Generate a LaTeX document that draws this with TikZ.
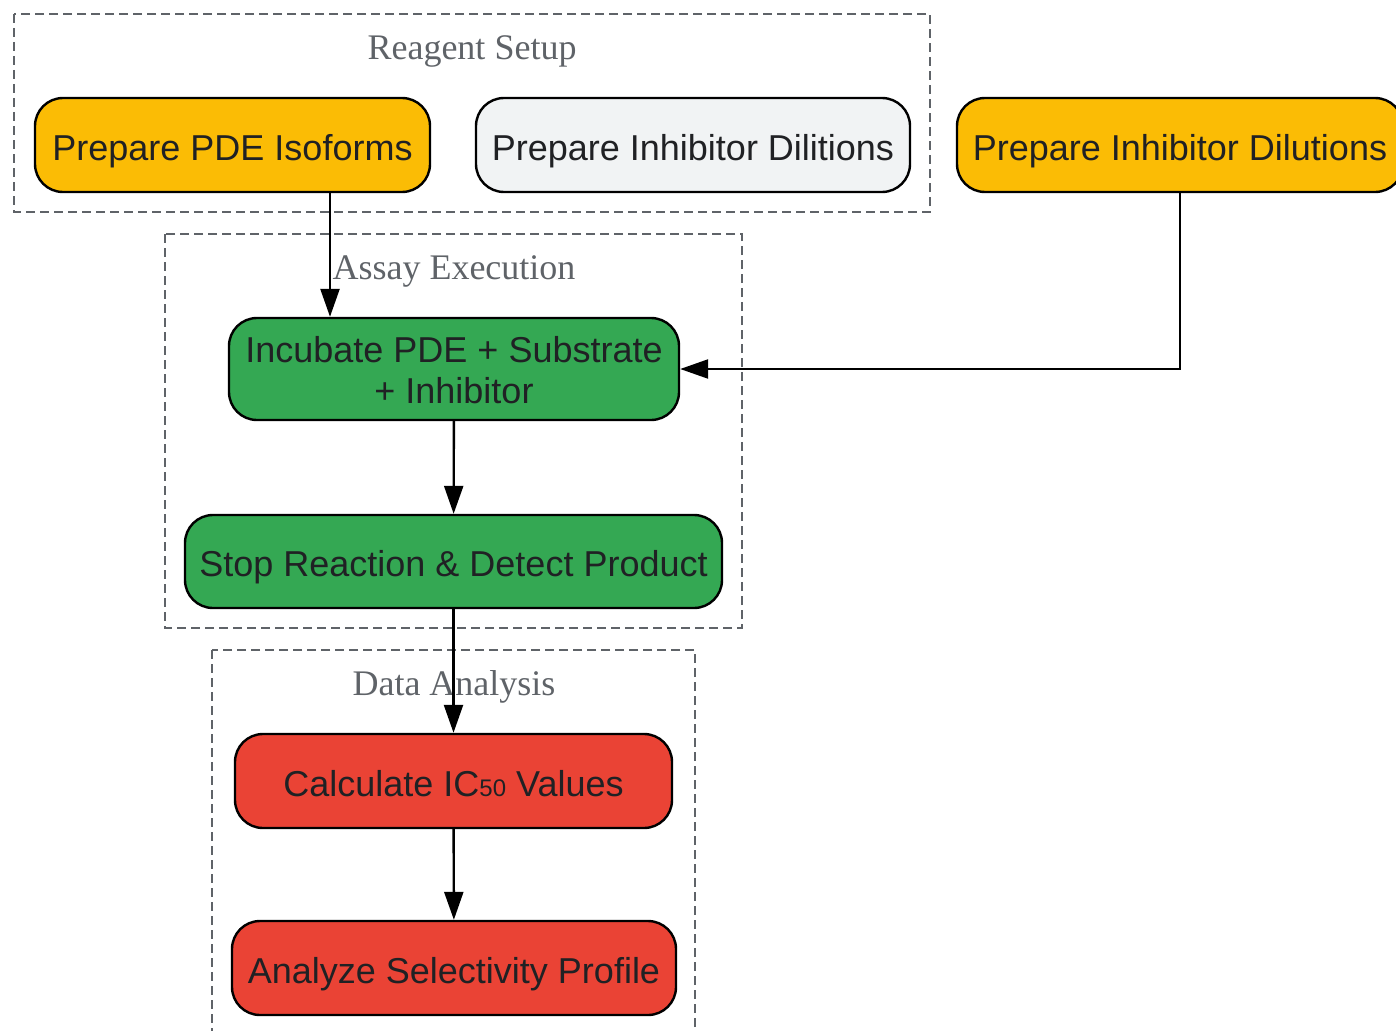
\documentclass[tikz,border=0pt]{standalone}
\usepackage{fontspec}
\setmainfont{Liberation Serif}
\newfontfamily\boxfont{Liberation Sans}
\usetikzlibrary{arrows.meta, positioning}

\definecolor{amber}{HTML}{FBBC05}
\definecolor{paleg}{HTML}{F1F3F4}
\definecolor{leaf}{HTML}{34A853}
\definecolor{tomato}{HTML}{EA4335}
\definecolor{ink}{HTML}{202124}
\definecolor{slate}{HTML}{5F6368}

\tikzset{
    stepbox/.style={draw=black, line width=2.4pt, rounded corners=28pt, text=ink,
        font=\boxfont\fontsize{36}{41}\selectfont, align=center, inner sep=0pt,
        text height=34pt, text depth=4pt},
    cluster/.style={draw=slate, line width=2.2pt, dash pattern=on 9pt off 5pt},
    clabel/.style={text=slate, font=\fontsize{36}{40}\selectfont},
    link/.style={line width=2.4pt, -{Triangle[length=28pt,width=19pt]}}
}

\begin{document}
\begin{tikzpicture}[x=1pt,y=-1pt]
    \useasboundingbox (0,0) rectangle (1396,1030);
    % groups
    \draw[cluster] (14,14) rectangle (930,212);
    \draw[cluster] (165,234) rectangle (742,628);
    \draw[cluster] (212,650) rectangle (695,1045);
    \node[clabel] (lreag) at (472,51) {Reagent Setup};
    \node[clabel] (lassay) at (454,271) {Assay Execution};
    \node[clabel] (ldata) at (454,687) {Data Analysis};
    % steps
    \node[stepbox, fill=amber, minimum width=395pt, minimum height=94pt] (pdeiso) at (232.5,145) {Prepare PDE Isoforms};
    \node[stepbox, fill=paleg, minimum width=434pt, minimum height=94pt] (dilit) at (693,145) {Prepare Inhibitor Dilitions};
    \node[stepbox, fill=amber, minimum width=446pt, minimum height=94pt] (dilut) at (1180,145) {Prepare Inhibitor Dilutions};
    \node[stepbox, fill=leaf, minimum width=450pt, minimum height=102pt, text height=75pt, text depth=5.5pt] (incub) at (454,369) {Incubate PDE + Substrate\\+ Inhibitor};
    \node[stepbox, fill=leaf, minimum width=537pt, minimum height=93pt] (stop) at (453.5,561.5) {Stop Reaction \& Detect Product};
    \node[stepbox, fill=tomato, minimum width=437pt, minimum height=94pt] (calc) at (453.5,781) {Calculate IC{\fontsize{24}{24}\selectfont 50} Values};
    \node[stepbox, fill=tomato, minimum width=444pt, minimum height=94pt] (anal) at (454,968) {Analyze Selectivity Profile};
    % flow
    \draw[link] (pdeiso.south -| 330,0) -- (incub.north -| 330,0);
    \draw[link] (dilut.south) |- (incub.east);
    \draw[link] (incub) -- (stop);
    \draw[link] (stop) -- (calc);
    \draw[link] (calc) -- (anal);
\end{tikzpicture}
\end{document}
